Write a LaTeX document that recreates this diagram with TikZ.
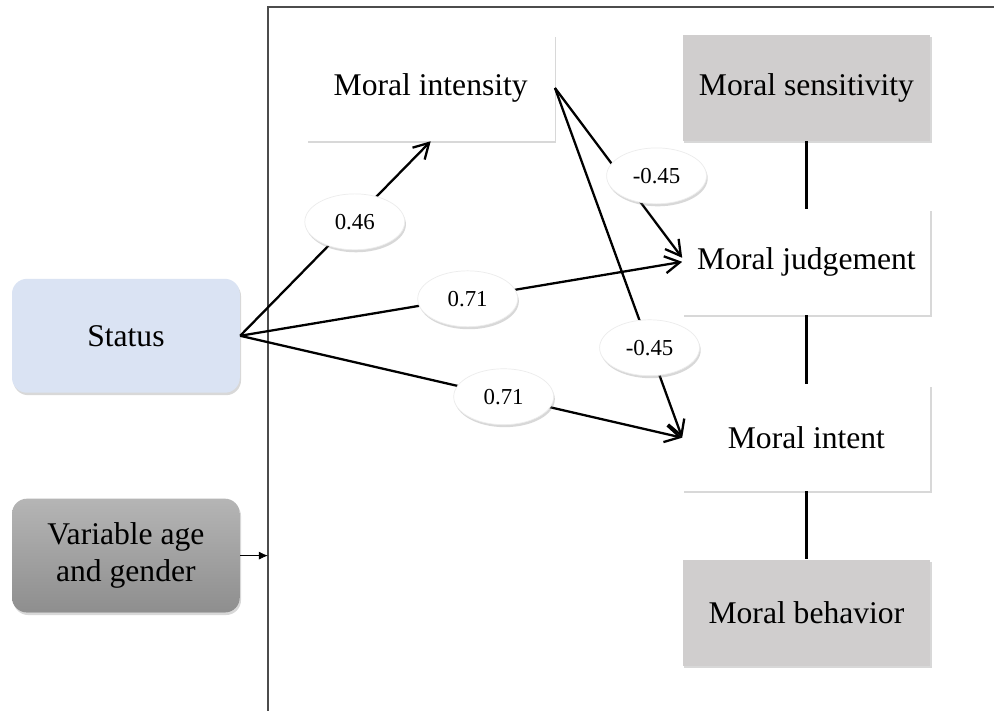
\documentclass[tikz,border=0pt]{standalone}
\usepackage{fontspec}
\setmainfont{Liberation Serif}
\usetikzlibrary{arrows.meta, shadows, shapes.geometric, positioning}
\definecolor{stblue}{HTML}{DAE3F3}
\definecolor{boxgray}{HTML}{D0CECE}
\definecolor{vartop}{HTML}{B5B5B5}
\definecolor{varbot}{HTML}{8E8E8E}

\begin{document}
\begin{tikzpicture}[x=0.02cm, y=-0.02cm, >={Straight Barb[length=3mm,width=3.4mm]},
    shd/.style={drop shadow={shadow xshift=0.7pt, shadow yshift=-1.4pt, opacity=0.3}},
    box/.style={shd, fill=white, minimum width=4.96cm, minimum height=2.12cm, inner sep=2pt, font=\fontsize{18}{21}\selectfont},
    rbox/.style={box, rounded corners=0.3cm, minimum width=4.56cm, minimum height=2.28cm, align=center},
    coef/.style={shd, ellipse, fill=white, draw=gray!15, minimum width=2cm, minimum height=1.12cm, inner sep=0pt, font=\fontsize{13}{15}\selectfont},
    path/.style={line width=1.3pt}]
\fill[white] (0,0) rectangle (995,711);
\draw[black!70, line width=0.8pt] (268,711) -- (268,7) -- (995,7);
\coordinate (frm) at (268,556);

\node[rbox, fill=stblue] (st) at (126,336) {Status};
\node[rbox, top color=vartop, bottom color=varbot] (va) at (126,556) {Variable age\\and gender};

\node[box] (mi) at (431,88) {Moral intensity};
\node[box, fill=boxgray] (ms) at (807,88) {Moral sensitivity};
\node[box] (mj) at (807,262) {Moral judgement};
\node[box] (mt) at (807,438) {Moral intent};
\node[box, fill=boxgray] (mb) at (807,613) {Moral behavior};

\draw[path] (ms) -- (mj) -- (mt) -- (mb);
\draw[path,->] (st.east) -- (mi.south);
\draw[path,->] (st.east) -- (mj.west);
\draw[path,->] (st.east) -- (mt.west);
\draw[path,->] (mi.east) -- ([yshift=0.08cm]mj.west);
\draw[path,->] (mi.east) -- (mt.west);
\draw[-{Latex[length=1.8mm,width=1.6mm]}] (va.east) -- (frm);

\node[coef] (c1) at (355,222) {0.46};
\node[coef] (c2) at (657,176) {-0.45};
\node[coef] (c3) at (468,299) {0.71};
\node[coef] (c4) at (650,348) {-0.45};
\node[coef] (c5) at (504,397) {0.71};
\end{tikzpicture}
\end{document}
